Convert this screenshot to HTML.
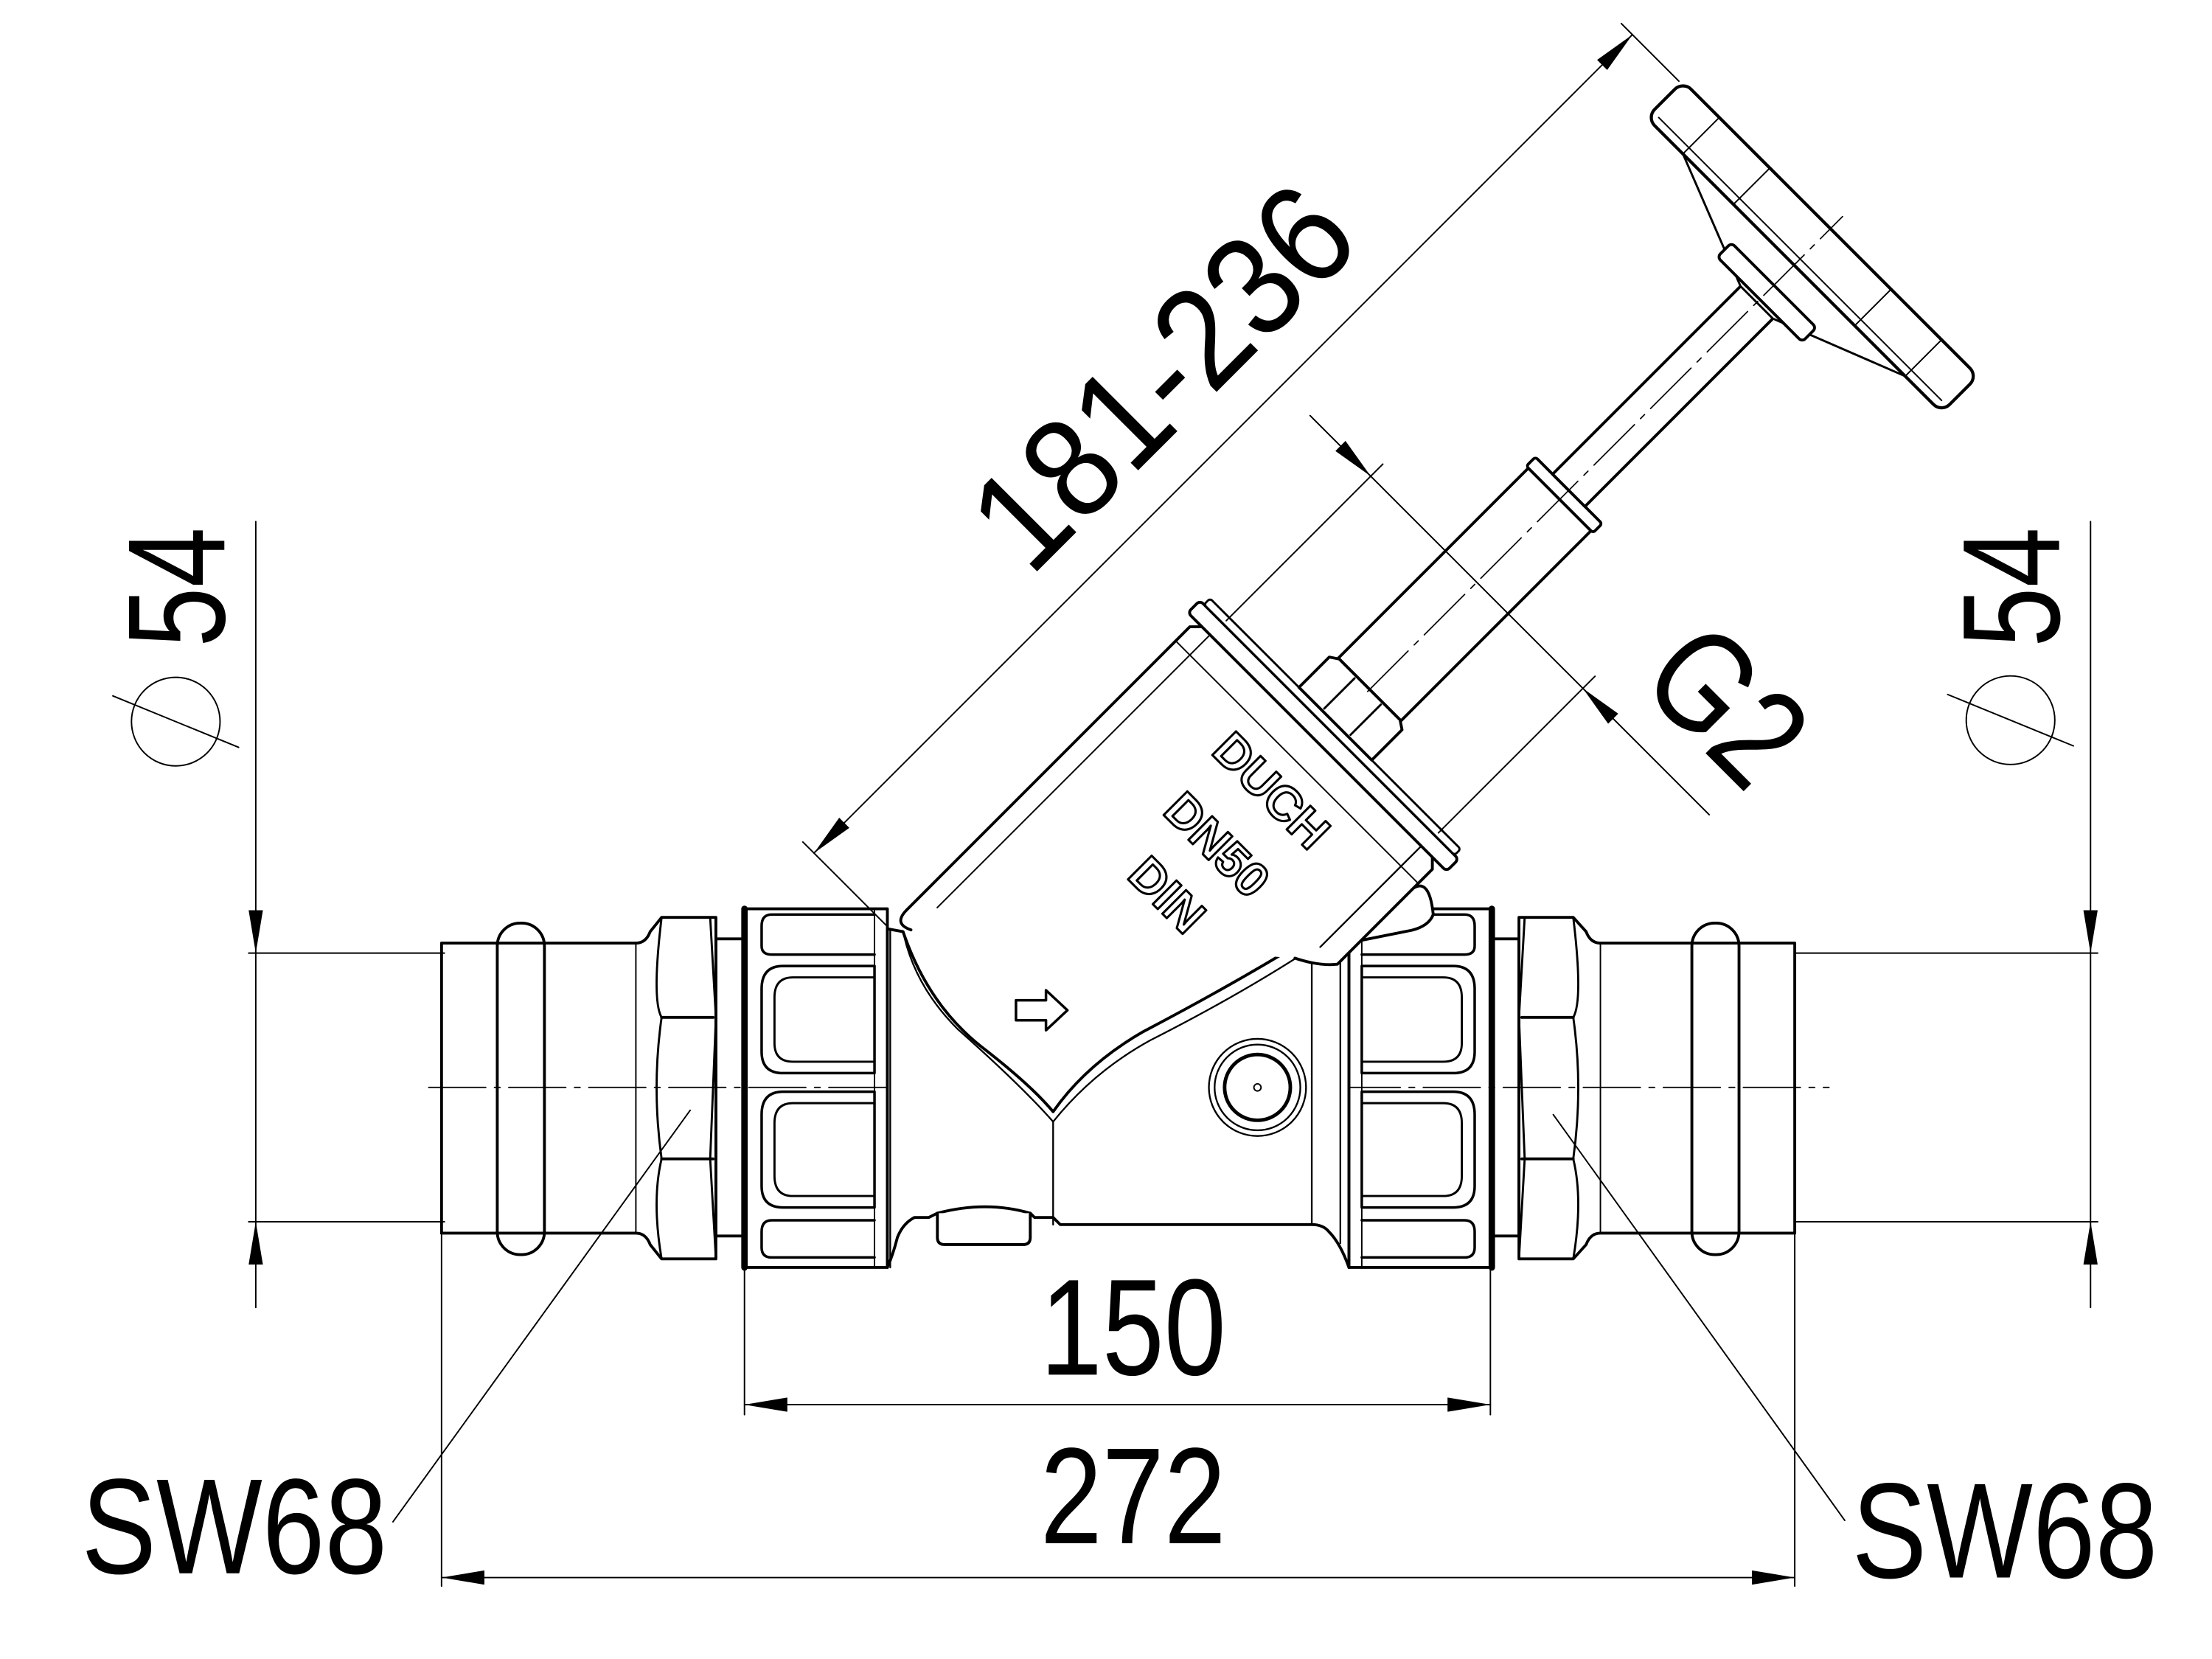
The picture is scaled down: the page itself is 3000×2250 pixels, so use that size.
<!DOCTYPE html>
<html><head><meta charset="utf-8"><style>
html,body{margin:0;padding:0;background:#fff}
svg{display:block}
text{font-family:"Liberation Sans",Arial,sans-serif;fill:#000}
</style></head><body>
<svg width="3000" height="2250" viewBox="0 0 1548 1161" xmlns="http://www.w3.org/2000/svg" fill="none" stroke="#000" stroke-linejoin="round" stroke-linecap="round">
<defs>
<marker id="a" viewBox="0 0 30 10" refX="30" refY="5" markerWidth="30" markerHeight="10" markerUnits="userSpaceOnUse" orient="auto-start-reverse"><path d="M0,0 L30,5 L0,10 Z" fill="#000" stroke="none"/></marker>
</defs>

<g stroke-width="0.9" stroke-dasharray="40,6,4,6">
<line x1="300" y1="761" x2="660" y2="761"/>
<line x1="940" y1="761" x2="1280" y2="761"/>
</g>

<g stroke-width="1">
<line x1="179" y1="365" x2="179" y2="667" marker-end="url(#a)"/>
<line x1="179" y1="915" x2="179" y2="855" marker-end="url(#a)"/>
<line x1="179" y1="667" x2="179" y2="855"/>
<line x1="174" y1="667" x2="311" y2="667"/>
<line x1="174" y1="855" x2="311" y2="855"/>
<circle cx="123" cy="505" r="31"/>
<line x1="79" y1="487" x2="167" y2="523"/>
</g>
<text transform="translate(157,411) rotate(-90)" font-size="97" text-anchor="middle" stroke="none" textLength="84" lengthAdjust="spacingAndGlyphs">54</text>

<g stroke-width="1">
<line x1="1463" y1="365" x2="1463" y2="667" marker-end="url(#a)"/>
<line x1="1463" y1="915" x2="1463" y2="855" marker-end="url(#a)"/>
<line x1="1463" y1="667" x2="1463" y2="855"/>
<line x1="1256" y1="667" x2="1468" y2="667"/>
<line x1="1256" y1="855" x2="1468" y2="855"/>
<circle cx="1407" cy="504" r="31"/>
<line x1="1363" y1="486" x2="1451" y2="522"/>
</g>
<text transform="translate(1441,411) rotate(-90)" font-size="97" text-anchor="middle" stroke="none" textLength="84" lengthAdjust="spacingAndGlyphs">54</text>

<g stroke-width="1">
<line x1="521" y1="886" x2="521" y2="990"/>
<line x1="1043" y1="886" x2="1043" y2="990"/>
<line x1="521" y1="983" x2="1043" y2="983" marker-start="url(#a)" marker-end="url(#a)"/>
<line x1="309" y1="863" x2="309" y2="1110"/>
<line x1="1256" y1="863" x2="1256" y2="1110"/>
<line x1="309" y1="1104" x2="1256" y2="1104" marker-start="url(#a)" marker-end="url(#a)"/>
<line x1="275" y1="1065" x2="483" y2="777"/>
<line x1="1291" y1="1064" x2="1087" y2="780"/>
</g>
<text x="728" y="962" font-size="96" stroke="none" textLength="130" lengthAdjust="spacingAndGlyphs">150</text>
<text x="728" y="1080" font-size="96" stroke="none" textLength="130" lengthAdjust="spacingAndGlyphs">272</text>
<text x="57" y="1101" font-size="95" stroke="none" textLength="214" lengthAdjust="spacingAndGlyphs">SW68</text>
<text x="1296" y="1104" font-size="95" stroke="none" textLength="214" lengthAdjust="spacingAndGlyphs">SW68</text>

<g stroke-width="2">
<path d="M309,660 L445,660 Q452,660 455,652 L463,642 L501,642 L501,881 L463,881 L455,871 Q452,863 445,863 L309,863 Z"/>
<rect x="348" y="646" width="33" height="232" rx="16"/>
<path d="M463,642 Q456,700 463,712 Q456,761 463,811 Q456,840 463,881" stroke-width="1.5"/>
<path d="M497,642 L501,712 L497,811 L501,881" stroke-width="1.5"/>
<line x1="463" y1="712" x2="499" y2="712"/><line x1="463" y1="811" x2="499" y2="811"/>
<line x1="445" y1="660" x2="445" y2="863" stroke-width="1"/>
<rect x="501" y="657" width="20" height="208"/>
<rect x="521" y="636" width="100" height="251" stroke-width="2"/>
<line x1="521" y1="636" x2="521" y2="887" stroke-width="4.5"/>
<line x1="612" y1="636" x2="612" y2="887" stroke-width="1"/>
</g>
<g stroke-width="1.8">
<path d="M612,640 L540,640 Q533,640 533,648 L533,662 Q533,668 540,668 L612,668"/>
<path d="M612,676 L548,676 Q533,676 533,692 L533,736 Q533,751 548,751 L612,751 L612,676"/>
<path d="M612,684 L555,684 Q542,684 542,698 L542,730 Q542,743 555,743 L612,743" stroke-width="1.5"/>
<path d="M612,764 L548,764 Q533,764 533,780 L533,830 Q533,845 548,845 L612,845 L612,764"/>
<path d="M612,772 L555,772 Q542,772 542,786 L542,823 Q542,837 555,837 L612,837" stroke-width="1.5"/>
<path d="M612,854 L540,854 Q533,854 533,862 L533,873 Q533,880 540,880 L612,880"/>
</g>

<g stroke-width="2">
<path d="M1256,660 L1120,660 Q1113,660 1110,652 L1101,642 L1063,642 L1063,881 L1101,881 L1110,871 Q1113,863 1120,863 L1256,863 Z"/>
<rect x="1184" y="646" width="33" height="232" rx="16"/>
<path d="M1101,642 Q1108,700 1101,712 Q1108,761 1101,811 Q1108,840 1101,881" stroke-width="1.5"/>
<path d="M1067,642 L1063,712 L1067,811 L1063,881" stroke-width="1.5"/>
<line x1="1065" y1="712" x2="1101" y2="712"/><line x1="1065" y1="811" x2="1101" y2="811"/>
<line x1="1120" y1="660" x2="1120" y2="863" stroke-width="1"/>
<rect x="1044" y="657" width="19" height="208"/>
<rect x="944" y="636" width="100" height="251" stroke-width="2"/>
<line x1="1044" y1="636" x2="1044" y2="887" stroke-width="4.5"/>
<line x1="953" y1="636" x2="953" y2="887" stroke-width="1"/>
</g>
<g stroke-width="1.8">
<path d="M953,640 L1025,640 Q1032,640 1032,648 L1032,662 Q1032,668 1025,668 L953,668"/>
<path d="M953,676 L1017,676 Q1032,676 1032,692 L1032,736 Q1032,751 1017,751 L953,751 L953,676"/>
<path d="M953,684 L1010,684 Q1023,684 1023,698 L1023,730 Q1023,743 1010,743 L953,743" stroke-width="1.5"/>
<path d="M953,764 L1017,764 Q1032,764 1032,780 L1032,830 Q1032,845 1017,845 L953,845 L953,764"/>
<path d="M953,772 L1010,772 Q1023,772 1023,786 L1023,823 Q1023,837 1010,837 L953,837" stroke-width="1.5"/>
<path d="M953,854 L1025,854 Q1032,854 1032,862 L1032,873 Q1032,880 1025,880 L953,880"/>
</g>

<g stroke-width="2" fill="#fff">
<path d="M621,650 L632,652 Q650,705 690,735 Q722,760 737,778 Q760,745 800,722 Q880,680 942,640 Q965,628 985,625 Q1000,610 1003,640 Q1000,648 988,651 L953,658 L944,660 L944,887 Q938,870 930,862 Q926,857 918,857 L742,857 L737,852 L724,852 L721,849 Q690,840 656,849 L650,852 L640,852 Q632,856 628,866 Q625,878 621,887 Z"/>
</g>
<g stroke-width="1.2">
<path d="M632,652 Q640,690 670,720 Q715,760 737,785"/>
<path d="M737,785 Q765,750 805,728 Q880,690 938,650"/>
<line x1="737" y1="785" x2="737" y2="857"/>
<line x1="623" y1="650" x2="623" y2="887"/>
<line x1="918" y1="655" x2="918" y2="857"/>
<line x1="938" y1="650" x2="938" y2="870"/>
</g>
<path d="M656,849 L656,866 Q656,871 661,871 L716,871 Q721,871 721,866 L721,849" stroke-width="2" fill="#fff"/>
<path d="M711,700 L732,700 L732,693 L747,707 L732,721 L732,714 L711,714 Z" stroke-width="1.8"/>
<circle cx="880" cy="761" r="34" stroke-width="1.2"/>
<circle cx="880" cy="761" r="30" stroke-width="1.2"/>
<circle cx="880" cy="761" r="23" stroke-width="2.5"/>
<circle cx="880" cy="761" r="2.5" stroke-width="1"/>

<g transform="translate(745,696) rotate(-45)">
<path d="M-44,-108 Q-50,-120 -36,-120 L244,-120 L252,-112 L252,112 L244,120 L150,120 Q140,112 132,96" stroke-width="2" fill="#fff"/>
<line x1="150" y1="103" x2="250" y2="103" stroke-width="1.2"/>
<line x1="-20" y1="-106" x2="250" y2="-106" stroke-width="1"/>
<line x1="230" y1="-120" x2="230" y2="120" stroke-width="1"/>
<rect x="250" y="-128" width="12" height="256" rx="3" stroke-width="2" fill="#fff"/>
<rect x="262" y="-124" width="6" height="248" rx="2" stroke-width="1.5" fill="#fff"/>
<path d="M268,-36 L298,-36 L302,-30 L302,30 L298,36 L268,36 Z" stroke-width="2" fill="#fff"/>
<line x1="270" y1="-13" x2="300" y2="-13" stroke-width="1.5"/>
<line x1="270" y1="13" x2="300" y2="13" stroke-width="1.5"/>
<rect x="302" y="-31" width="188" height="62" stroke-width="2" fill="#fff"/>
<rect x="490" y="-33" width="9" height="66" rx="2" stroke-width="2" fill="#fff"/>
<rect x="499" y="-16" width="190" height="32" stroke-width="2" fill="#fff"/>
<path d="M685,-16 L722,-110 L722,110 L685,16 Z" stroke-width="1.5" fill="#fff"/>
<rect x="688" y="-42" width="14" height="84" rx="3" stroke-width="2" fill="#fff"/>
<rect x="722" y="-146" width="36" height="292" rx="8" stroke-width="2.2" fill="#fff"/>
<line x1="728" y1="-140" x2="728" y2="140" stroke-width="1"/>
<line x1="722" y1="-110" x2="758" y2="-110" stroke-width="1"/>
<line x1="722" y1="-60" x2="758" y2="-60" stroke-width="1"/>
<line x1="722" y1="60" x2="758" y2="60" stroke-width="1"/>
<line x1="722" y1="110" x2="758" y2="110" stroke-width="1"/>
<line x1="300" y1="0" x2="770" y2="0" stroke-width="0.9" stroke-dasharray="40,6,4,6"/>
<g stroke-width="1">
<line x1="-54" y1="-122" x2="-54" y2="-205"/>
<line x1="756" y1="-148" x2="756" y2="-205"/>
<line x1="-54" y1="-194" x2="756" y2="-194" marker-start="url(#a)" marker-end="url(#a)"/>
<line x1="265" y1="-105" x2="420" y2="-105"/>
<line x1="265" y1="105" x2="420" y2="105"/>
<line x1="408" y1="-165" x2="408" y2="-105" marker-end="url(#a)"/>
<line x1="408" y1="230" x2="408" y2="105" marker-end="url(#a)"/>
<line x1="408" y1="-105" x2="408" y2="105"/>
</g>
<text x="354" y="-223" font-size="100" text-anchor="middle" stroke="none" textLength="330" lengthAdjust="spacingAndGlyphs">181-236</text>
</g>
<text transform="translate(1209,493) rotate(45)" x="0" y="35" font-size="100" text-anchor="middle" stroke="none" textLength="110" lengthAdjust="spacingAndGlyphs">G2</text>

<g font-weight="bold" font-size="34" stroke-width="1.6" text-anchor="middle">
<text transform="translate(890,553) rotate(45)" y="12" style="fill:#fff;stroke:#000">DUCH</text>
<text transform="translate(852,591) rotate(45)" y="12" style="fill:#fff;stroke:#000">DN50</text>
<text transform="translate(817,626) rotate(45)" y="12" style="fill:#fff;stroke:#000">DIN</text>
</g>
</svg>
</body></html>
